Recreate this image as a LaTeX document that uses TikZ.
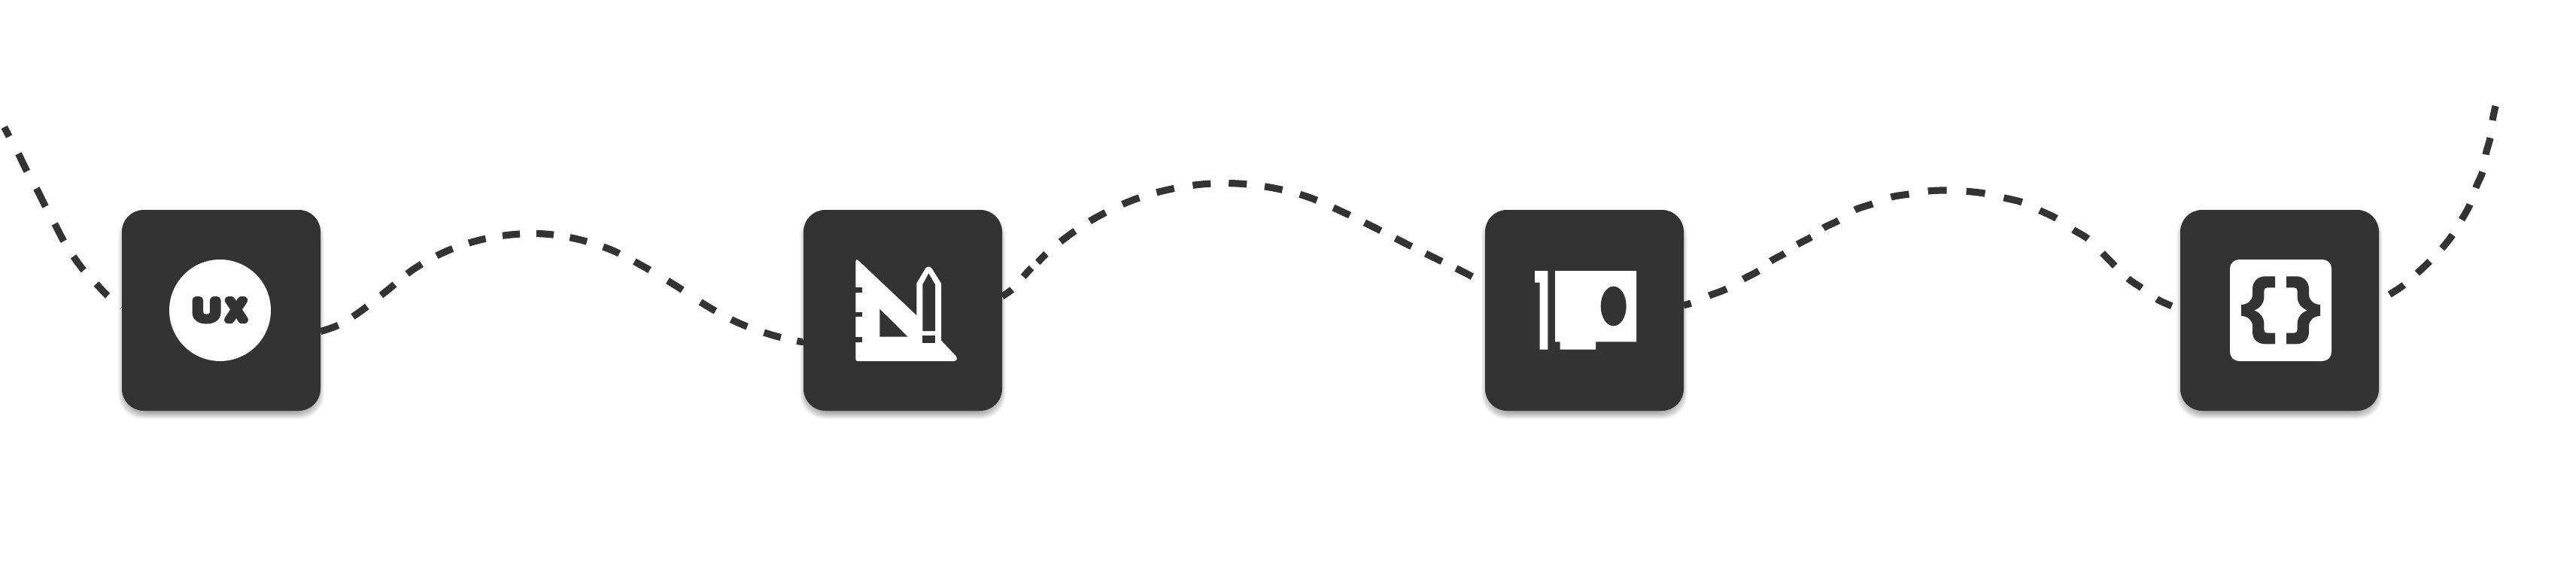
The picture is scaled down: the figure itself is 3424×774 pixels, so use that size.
\documentclass[tikz,border=0pt]{standalone}
\usepackage{fontspec}
\newfontfamily\ufont[FakeBold=26.5,FakeStretch=1.30]{Liberation Sans}
\newfontfamily\xfont[FakeBold=26.5,FakeStretch=0.924]{Liberation Sans}
\definecolor{ink}{HTML}{333333}
\tikzset{
  x=1pt,y=-1pt,
  cardbox/.style={fill=ink,rounded corners=29pt,minimum width=264pt,minimum height=267pt,inner sep=0pt,outer sep=0pt},
  link/.style={draw=ink,line width=9.2pt},
  glyph/.style={fill=white},
  hole/.style={fill=ink},
  zoomed/.style={shift={#1},x=0.33333pt,y=-0.33333pt}
}
\newcommand{\softshadow}[1]{%
  \foreach \r in {-6,-5.5,...,5}{%
    \fill[black,opacity=0.02,rounded corners=32pt] (#1-132-\r,279+7-\r) rectangle (#1+132+\r,546+6+\r);
  }}
\newcommand{\leftbracepath}{(432,322) -- (392,322) .. controls (362,322) and (342,345) .. (342,372) -- (342,395) .. controls (342,418) and (322,435) .. (297,435) -- (297,480) .. controls (322,480) and (342,497) .. (342,520) -- (342,545) .. controls (342,572) and (362,592) .. (392,592) -- (432,592) -- (432,548) -- (400,548) .. controls (393,548) and (388,543) .. (388,535) -- (388,510) .. controls (388,485) and (370,465) .. (348,458) .. controls (370,450) and (388,430) .. (388,405) -- (388,380) .. controls (388,372) and (393,367) .. (400,367) -- (432,367) -- cycle}
\begin{document}
\begin{tikzpicture}
\useasboundingbox (0,0) rectangle (3424,774);
\fill[white] (0,0) rectangle (3424,774);
\softshadow{294}\softshadow{1200}\softshadow{2106}\softshadow{3030}
\node[cardbox] (a) at (294,412.5) {};
\node[cardbox] (b) at (1200,412.5) {};
\node[cardbox] (c) at (2106,412.5) {};
\node[cardbox] (d) at (3030,412.5) {};
\coordinate (s) at (5.7,169);
\coordinate (e) at (3317,141);

% connectors
\draw[link,dash pattern=on 14pt off 26pt on 26pt off 26pt on 27pt off 26pt on 26pt off 24pt on 23pt off 24.5pt on 22pt off 23.8pt on 2pt off 10pt]
  plot[smooth,tension=.6] coordinates {(s) (12,181) (24.3,204) (36,228) (48.7,251) (60.7,275) (73,298) (85,321) (97.7,341) (111,359) (127.7,377) (143,393) (a.178.9)};
\draw[link,dash pattern=on 25pt off 22.5pt on 23.2pt off 23.8pt on 23.2pt off 21.8pt on 23.2pt off 22.8pt on 23.2pt off 22.8pt on 23.2pt off 22.8pt on 23.2pt off 21.8pt on 23.2pt off 21.8pt on 23.2pt off 22.8pt on 23.2pt off 22.8pt on 23.2pt off 27.8pt on 23.2pt off 28.8pt on 23.2pt off 23.8pt on 23.2pt off 23.8pt on 23.2pt off 22pt on 14pt off 10pt]
  plot[smooth,tension=.6] coordinates {(a.-12.8) (450,432) (479,414) (516,385) (551,357) (591,335) (634,320) (679,312) (724,311) (768,318) (812,332) (853,353) (897,379) (940,407) (981,429) (1025,445) (1063,454) (b.197.85)};
\draw[link,dash pattern=on 16pt off 22.7pt on 16pt off 11pt on 16pt off 25pt on 24pt off 23.5pt on 24pt off 25pt on 24pt off 24pt on 24pt off 25pt on 24pt off 24pt on 24pt off 24pt on 24pt off 24pt on 24pt off 24pt on 24pt off 22pt on 24pt off 22pt on 24pt off 21pt on 24pt off 21pt on 24pt off 40pt]
  plot[smooth,tension=.6] coordinates {(b.8.6) (1346,384) (1361,367) (1372,355) (1380,348) (1391,337) (1410,321) (1429,307) (1459,288) (1503,267) (1549,253) (1597,245) (1645,244) (1693,250) (1739,262) (1783,281) (1824,301) (1865,322) (1905,342) (1946,362) (c.165.4)};
\draw[link,dash pattern=on 10pt off 26pt on 25pt off 25.6pt on 23.4pt off 20.6pt on 21pt off 20.8pt on 21pt off 20pt on 22.6pt off 25.8pt on 25pt off 26pt on 24.3pt off 25.6pt on 25pt off 26pt on 25pt off 25.6pt on 25pt off 25.8pt on 24.7pt off 27pt on 23pt off 27pt on 24pt off 24pt on 22pt off 25pt on 22pt off 20pt]
  plot[smooth,tension=.6] coordinates {(c.3.04) (2247.7,403) (2271.7,393) (2295,384) (2317,371) (2337.7,360) (2353.7,347) (2372,337) (2389,325) (2407.7,315) (2423.7,303) (2444,293) (2465.7,279) (2489,271) (2513.7,262) (2537.7,258) (2563,254) (2588,253) (2614,254.3) (2639,257.3) (2664,263) (2688,269) (2711.7,280) (2734,290.7) (2756.7,306) (2776,318) (2795,337) (2811.7,354) (2829,370.7) (2847,383) (2867,397.7) (2887,407) (d.west)};
\draw[link,dash pattern=on 23pt off 23.5pt,dash phase=29.5pt]
  plot[smooth,tension=.6] coordinates {(d.5.8) (3177,391) (3195,379) (3213,363) (3230,347) (3246,330) (3260,312) (3272,292) (3283,272) (3291,249) (3300,228) (3304,205) (3310,183) (3313,160) (e)};

% UX icon
\fill[glyph] (292.5,412.5) circle[radius=67.5];
\node[text=ink,inner sep=0pt,font=\fontsize{37.8}{38}\selectfont] (uxt) at (291.2,412.3) {\pgfsetroundjoin\pgfsetroundcap{\ufont U}\kern10pt{\xfont X}};

% set square and pencil icon
\begin{scope}[zoomed={(1050,260)}]
  \fill[glyph] (262,262) .. controls (262,255) and (268,253) .. (272,258) -- (505,478) -- (505,350) -- (540,291) .. controls (547,281) and (559,281) .. (566,291) -- (603,350) -- (603,578) -- (662,640) .. controls (668,646) and (667,660) .. (655,660) -- (270,660) .. controls (265,660) and (262,657) .. (262,652) -- cycle;
  \fill[hole] (262,366) rectangle (288,386);
  \fill[hole] (262,464) rectangle (288,484);
  \fill[hole] (262,565) rectangle (288,585);
  \fill[hole] (358,452) -- (358,563) -- (470,563) -- cycle;
  \fill[hole] (529,355) -- (553,310) -- (579,355) -- (579,540) -- (529,540) -- cycle;
  \fill[hole] (529,558) rectangle (579,588);
\end{scope}

% expansion card icon
\begin{scope}[zoomed={(1960,260)}]
  \fill[glyph] (240,300) -- (292,300) -- (292,614) -- (260,614) -- (260,347) -- (240,347) -- cycle;
  \fill[glyph] (321,300) -- (645,300) -- (645,583) -- (483,583) -- (483,614) -- (341,614) -- (341,583) -- (321,583) -- cycle;
  \fill[hole] (554,441) ellipse[x radius=51,y radius=79];
\end{scope}

% braces icon
\begin{scope}[zoomed={(2880,260)}]
  \fill[glyph,rounded corners=12pt] (252,255) rectangle (657,660);
  \fill[hole] \leftbracepath;
  \begin{scope}[shift={(909,0)},xscale=-1]
    \fill[hole] \leftbracepath;
  \end{scope}
\end{scope}
\end{tikzpicture}
\end{document}
